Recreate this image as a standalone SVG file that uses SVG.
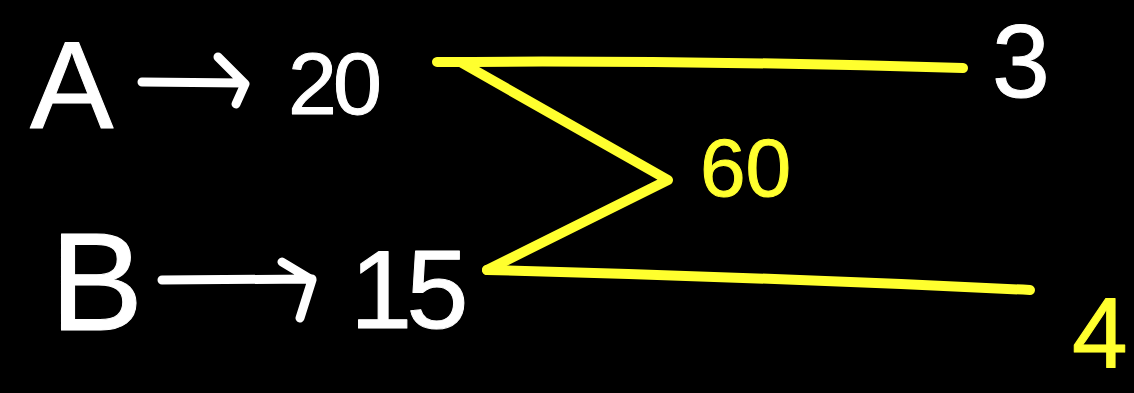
<svg xmlns="http://www.w3.org/2000/svg" width="1134" height="393" viewBox="0 0 1134 393">
<style>
.w{fill:#fff;stroke:#fff;stroke-width:1;stroke-linejoin:round;font-family:"Liberation Sans",Arial,sans-serif}
.y{fill:#ffff2e;stroke:#ffff2e;stroke-width:1;stroke-linejoin:round;font-family:"Liberation Sans",Arial,sans-serif}
.ln{fill:none;stroke:#fff;stroke-width:9;stroke-linecap:round;stroke-linejoin:round}
.yl{fill:none;stroke:#ffff2e;stroke-width:10;stroke-linecap:round;stroke-linejoin:round}
</style>
<rect width="1134" height="393" fill="#000"/>
<g id="nodeA"><text class="w" x="30" y="128" font-size="125">A</text></g>
<g id="node20"><text class="w" x="288" y="114" font-size="88" letter-spacing="-4">20</text></g>
<g id="nodeB"><text class="w" x="50" y="330" font-size="140">B</text></g>
<g id="node15"><text class="w" x="350" y="328" font-size="112" letter-spacing="-6">15</text></g>
<g id="node60"><text class="y" x="700" y="196" font-size="82">60</text></g>
<g id="node3"><text class="w" x="992" y="97" font-size="104">3</text></g>
<g id="node4"><text class="y" x="1072" y="368" font-size="100">4</text></g>
<g id="connectors">
<path class="ln" d="M142 82 L243 83 M218 57 L245 84 L236 104"/>
<path class="ln" d="M162 280 L312 279 M282 262 L312 280 L300 318"/>
<path class="yl" d="M437 62 Q700 60 963 68"/>
<path class="yl" d="M462 63 L668 180 L487 270"/>
<path class="yl" d="M487 270 Q760 277 1030 290"/>
</g>
</svg>
